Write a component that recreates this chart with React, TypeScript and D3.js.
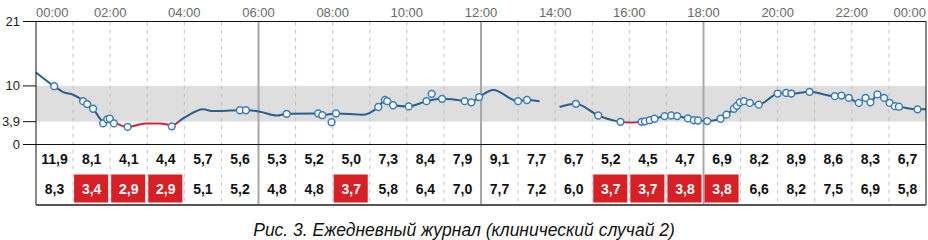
import * as d3 from "d3"

// glucose trace (hours, mmol/l), two parts with a gap around 14:00
const traceA: [number, number][] = [
  [0.0, 12.3], [0.49, 9.95], [0.75, 8.9], [1.0, 8.5], [1.27, 7.5], [1.38, 6.9],
  [1.54, 6.1], [1.81, 4.0], [1.92, 4.3], [1.99, 4.4], [2.1, 3.9], [2.47, 3.0],
  [2.95, 3.6], [3.35, 3.6], [3.66, 3.3], [4.0, 4.6], [4.51, 6.0], [4.77, 5.7],
  [5.5, 5.85], [5.66, 5.85], [6.04, 5.6], [6.49, 4.95], [6.76, 5.24], [7.56, 5.3],
  [7.61, 5.3], [7.72, 5.0], [8.09, 5.3], [8.82, 5.1], [9.23, 6.4], [9.41, 7.6],
  [9.47, 7.4], [9.63, 6.7], [10.05, 6.5], [10.53, 7.4], [10.67, 7.6], [10.95, 7.8],
  [11.56, 7.4], [11.74, 7.2], [11.95, 8.1], [12.33, 9.3], [13.0, 7.4], [13.24, 7.6],
  [13.58, 7.4],
]
const traceB: [number, number][] = [
  [14.12, 6.4], [14.56, 6.95], [15.16, 4.95], [15.76, 3.87], [16.05, 3.75], [16.33, 3.87],
  [16.42, 3.95], [16.55, 4.15], [16.68, 4.4], [16.95, 4.85], [17.13, 4.95], [17.29, 4.85],
  [17.58, 4.45], [17.74, 4.15], [17.85, 4.1], [18.1, 4.0], [18.46, 4.4], [18.62, 5.1],
  [18.82, 6.1], [18.98, 7.2], [19.09, 7.4], [19.25, 7.1], [19.49, 6.8], [20.0, 8.7],
  [20.23, 8.8], [20.37, 8.7], [20.86, 9.0], [21.54, 8.25], [21.72, 8.35], [21.92, 7.95],
  [22.19, 7.1], [22.37, 7.95], [22.5, 7.2], [22.69, 8.55], [22.87, 7.95], [23.02, 7.1],
  [23.16, 6.55], [23.27, 6.45], [23.77, 6.0], [24.0, 6.0],
]

// fingerstick / sensor readings shown as circles
const readings: [number, number][] = [
  [0.49, 9.95], [1.27, 7.4], [1.38, 6.9], [1.54, 6.1], [1.81, 3.6], [1.92, 4.3],
  [1.99, 4.4], [2.1, 3.6], [2.47, 3.0], [3.66, 3.1], [5.5, 5.85], [5.66, 5.85],
  [6.76, 5.24], [7.61, 5.3], [7.72, 5.0], [7.97, 3.8], [8.09, 5.3], [9.23, 6.4],
  [9.41, 7.6], [9.47, 7.4], [9.63, 6.7], [10.05, 6.5], [10.53, 7.4], [10.67, 8.65],
  [10.95, 7.8], [11.56, 7.4], [11.74, 7.2], [11.95, 8.1], [13.0, 7.4], [13.24, 7.6],
  [14.56, 6.95], [15.16, 4.95], [15.76, 3.87], [16.33, 3.87], [16.42, 3.95], [16.55, 4.15],
  [16.68, 4.4], [16.95, 4.85], [17.13, 4.95], [17.29, 4.85], [17.58, 4.45], [17.74, 4.15],
  [17.85, 4.1], [18.1, 4.0], [18.46, 4.4], [18.62, 5.1], [18.82, 6.1], [18.9, 6.6],
  [18.98, 7.2], [19.09, 7.4], [19.25, 7.1], [19.49, 6.8], [20.0, 8.7], [20.23, 8.8],
  [20.37, 8.7], [20.86, 9.0], [21.54, 8.25], [21.72, 8.35], [21.92, 7.95], [22.19, 7.1],
  [22.37, 7.95], [22.5, 7.2], [22.69, 8.55], [22.87, 7.95], [23.02, 7.1], [23.16, 6.55],
  [23.27, 6.45], [23.77, 6.0],
]

// hourly table
const hourMean = [11.9, 8.1, 4.1, 4.4, 5.7, 5.6, 5.3, 5.2, 5.0, 7.3, 8.4, 7.9, 9.1, 7.7, 6.7, 5.2, 4.5, 4.7, 6.9, 8.2, 8.9, 8.6, 8.3, 6.7]
const hourMin = [8.3, 3.4, 2.9, 2.9, 5.1, 5.2, 4.8, 4.8, 3.7, 5.8, 6.4, 7.0, 7.7, 7.2, 6.0, 3.7, 3.7, 3.8, 3.8, 6.6, 8.2, 7.5, 6.9, 5.8]

const timeLabels = ["00:00", "02:00", "04:00", "06:00", "08:00", "10:00", "12:00", "14:00", "16:00", "18:00", "20:00", "22:00", "00:00"]
const yTicks = [0, 3.9, 10, 21]
const targetLow = 3.9
const targetHigh = 10

const caption = "Рис. 3. Ежедневный журнал (клинический случай 2)"

const fmt = (v: number) => v.toFixed(1).replace(".", ",")

export default function App() {
  const left = 36
  const right = 926
  const x = d3.scaleLinear().domain([0, 24]).range([left, right])
  const y = d3.scaleLinear().domain([0, 21]).range([144.5, 21.5])
  const tableBottom = 205

  const line = d3
    .line<[number, number]>()
    .x((d) => x(d[0]))
    .y((d) => y(d[1]))
    .curve(d3.curveMonotoneX)

  const hours = d3.range(25)
  const colW = x(1) - x(0)
  const font = "'Liberation Sans', Arial, sans-serif"

  return (
    <svg width={928} height={240} style={{ position: "absolute", left: 0, top: 0 }} fontFamily={font}>
      <defs>
        <clipPath id="above">
          <rect x={0} y={0} width={928} height={y(targetLow)} />
        </clipPath>
        <clipPath id="below">
          <rect x={0} y={y(targetLow)} width={928} height={40} />
        </clipPath>
      </defs>
      <rect width={928} height={240} fill="#fff" />

      {/* target band */}
      <rect x={left} y={y(targetHigh)} width={right - left} height={y(targetLow) - y(targetHigh)} fill="#dedede" />

      {/* hour grid, plot + table */}
      {hours.slice(1, 24).map((h) => {
        const solid = h % 6 === 0
        return (
          <line
            key={h}
            x1={x(h)}
            x2={x(h)}
            y1={y(21)}
            y2={tableBottom}
            stroke={solid ? "#a8a8a8" : "#c4c4c4"}
            strokeWidth={solid ? 2 : 1}
            strokeDasharray={solid ? undefined : "4,4"}
          />
        )
      })}

      {/* trace */}
      {[traceA, traceB].map((seg, i) => (
        <g key={i} fill="none" strokeWidth={2} strokeLinejoin="round">
          <path d={line(seg) || ""} stroke="#2b5f90" clipPath="url(#above)" />
          <path d={line(seg) || ""} stroke="#d8232b" clipPath="url(#below)" />
        </g>
      ))}
      {readings.map((d, i) => (
        <circle key={i} cx={x(d[0])} cy={y(d[1])} r={3.4} fill="#fff" stroke="#3b7cbd" strokeWidth={1.5} />
      ))}

      {/* frame */}
      <line x1={23} x2={right} y1={y(21)} y2={y(21)} stroke="#111" />
      <line x1={23} x2={right} y1={y(0)} y2={y(0)} stroke="#111" />
      <line x1={left} x2={left} y1={y(21)} y2={tableBottom} stroke="#111" />
      <line x1={right} x2={right} y1={y(21)} y2={tableBottom} stroke="#111" />
      <line x1={left} x2={right} y1={tableBottom} y2={tableBottom} stroke="#555" strokeWidth={2} />

      {/* y axis */}
      {yTicks.map((t) => (
        <g key={t}>
          <line x1={23} x2={left} y1={y(t)} y2={y(t)} stroke="#111" />
          <text x={20} y={y(t)} dy="0.35em" textAnchor="end" fontSize={13} fill="#222">
            {fmt(t).replace(",0", "")}
          </text>
        </g>
      ))}

      {/* time labels */}
      {timeLabels.map((s, i) => (
        <text
          key={i}
          x={x(i * 2)}
          y={17}
          textAnchor={i === 0 ? "start" : i === timeLabels.length - 1 ? "end" : "middle"}
          fontSize={13}
          fill="#6a6a6a"
        >
          {s}
        </text>
      ))}

      {/* table */}
      {hourMean.map((v, i) => (
        <text key={"m" + i} x={x(i) + colW / 2} y={164} textAnchor="middle" fontSize={14} fontWeight="bold" fill="#111">
          {fmt(v)}
        </text>
      ))}
      {hourMin.map((v, i) => {
        const low = v < targetLow
        return (
          <g key={"n" + i}>
            {low && <rect x={x(i) + 1} y={174.5} width={colW - 3} height={28} fill="#d71f26" />}
            <text x={x(i) + colW / 2} y={194} textAnchor="middle" fontSize={14} fontWeight="bold" fill={low ? "#fff" : "#111"}>
              {fmt(v)}
            </text>
          </g>
        )
      })}

      <text x={464} y={236} textAnchor="middle" fontSize={17.5} fontStyle="italic" fill="#111">
        {caption}
      </text>
    </svg>
  )
}
